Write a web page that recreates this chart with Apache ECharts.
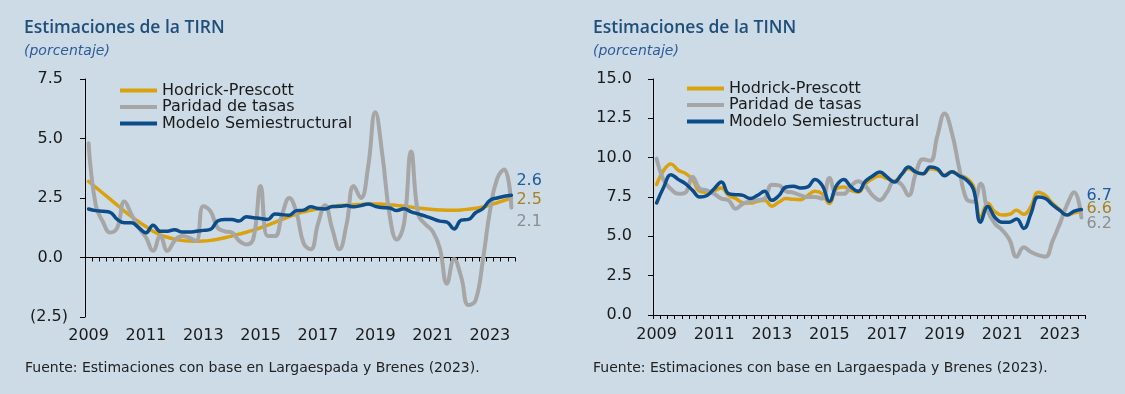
<!DOCTYPE html>
<html><head><meta charset="utf-8">
<script src="https://cdn.jsdelivr.net/npm/echarts@6/dist/echarts.min.js"></script>
<style>html,body{margin:0;padding:0;background:#CDDBE7;}#c{width:1125px;height:394px;}</style>
</head><body><div id="c"></div>
<script>
const years = ['2009','2010','2011','2012','2013','2014','2015','2016','2017','2018','2019','2020','2021','2022','2023'];
const quarterSuffix = ['T1','T2','T3','T4'];
const quarters = [];
years.forEach(y => quarterSuffix.forEach(q => quarters.push(y + q)));

const seriesNames = ['Hodrick-Prescott', 'Paridad de tasas', 'Modelo Semiestructural'];

// TIRN (left chart)
const tirnHP = [3.2,2.95,2.7,2.45,2.2,1.95,1.72,1.5,1.3,1.1,0.95,0.85,0.77,0.72,0.69,0.68,0.69,0.72,0.77,0.83,0.9,0.98,1.06,1.15,1.25,1.36,1.48,1.6,1.72,1.82,1.92,1.98,2.05,2.1,2.14,2.18,2.2,2.22,2.23,2.24,2.25,2.24,2.22,2.19,2.16,2.12,2.08,2.05,2.02,2.0,1.99,1.99,2.0,2.03,2.07,2.12,2.2,2.3,2.4,2.5];
const tirnPar = [4.8,2.2,1.5,1.05,1.25,2.35,1.8,1.25,0.85,0.28,0.9,0.28,0.7,0.9,0.83,0.7,2.15,1.95,1.25,1.1,1.05,0.7,0.55,0.8,3.0,0.9,0.9,1.8,2.5,1.9,0.6,0.35,1.4,2.2,1.2,0.35,1.4,3.0,2.5,3.8,6.1,4.3,1.8,0.76,1.4,4.45,1.8,1.4,1.1,0.4,-1.1,-0.07,-0.83,-2.0,-1.8,-0.15,1.95,3.3,3.7,2.1];
const tirnMS = [2.04,1.97,1.94,1.9,1.6,1.46,1.46,1.25,1.04,1.36,1.1,1.1,1.17,1.07,1.07,1.1,1.14,1.18,1.53,1.6,1.6,1.53,1.71,1.67,1.64,1.6,1.83,1.8,1.78,1.97,1.99,2.13,2.06,2.04,2.14,2.15,2.18,2.13,2.18,2.25,2.15,2.1,2.08,1.97,2.05,1.92,1.83,1.74,1.63,1.53,1.49,1.2,1.57,1.6,1.88,2.05,2.4,2.5,2.57,2.62];

// TINN (right chart)
const tinnHP = [8.3,9.2,9.6,9.2,9.0,8.6,7.86,7.8,7.9,8.07,7.6,7.4,7.14,7.12,7.22,7.3,6.92,7.18,7.4,7.35,7.33,7.6,7.86,7.7,7.08,8.03,8.13,7.92,7.8,8.35,8.67,8.83,8.67,8.5,8.92,9.3,9.05,8.98,9.3,9.2,8.9,9.1,8.9,8.7,8.2,6.2,7.1,6.55,6.35,6.4,6.65,6.4,6.9,7.8,7.6,7.1,6.7,6.35,6.5,6.6];
const tinnPar = [9.94,8.56,8.0,7.7,7.78,8.77,8.03,7.92,7.7,7.4,7.29,6.76,7.08,7.22,7.3,7.4,8.28,8.24,7.86,7.78,7.6,7.5,7.5,7.4,8.7,7.7,7.7,8.2,8.5,8.2,7.6,7.3,7.8,8.5,8.3,7.6,9.0,9.9,9.8,11.4,12.8,11.6,9.4,7.4,7.2,8.35,6.6,5.8,5.4,4.8,3.7,4.3,4.0,3.8,3.7,4.7,5.8,7.0,7.8,6.2];
const tinnMS = [7.12,8.14,8.92,8.62,8.35,7.92,7.5,7.6,8.03,8.45,7.71,7.65,7.6,7.4,7.6,7.86,7.29,7.6,8.14,8.18,8.07,8.14,8.62,8.24,7.22,8.24,8.62,8.14,7.86,8.5,8.83,9.09,8.77,8.45,8.92,9.4,9.09,8.98,9.4,9.3,8.85,9.1,8.85,8.6,8.0,5.9,6.9,6.2,5.9,5.9,6.1,5.5,6.45,7.5,7.4,7.0,6.65,6.35,6.6,6.7];

const C_GOLD = '#DAA20E', C_GRAY = '#A6A6A6', C_BLUE = '#0C4C89';
const L_GOLD = '#A9821E', L_GRAY = '#8E8E8E', L_BLUE = '#1D5B9C';
const TXT = '#1a1a1a';
const FONT = 'DejaVu Sans';
const FS = 16;

function yFmt(v){ return v < 0 ? '(' + Math.abs(v).toFixed(1) + ')' : v.toFixed(1) + ' '; }
function yearInterval(idx){ return idx % 8 === 0; }
function yearFmt(v){ return v.slice(0,4); }

function mkSeries(name, data, color, lcolor, width, xi, yi, off){
  return {
    name, type:'line', data, xAxisIndex:xi, yAxisIndex:yi,
    smooth:0.45, showSymbol:false, symbol:'none',
    lineStyle:{color, width, cap:'round', join:'round'}, itemStyle:{color},
    endLabel:{show:true, distance:5, offset:off, color:lcolor, fontSize:FS, fontFamily:FONT,
      formatter:p => Number(p.value).toFixed(1)},
    z: 2
  };
}

const legendBase = {
  orient:'vertical', icon:'rect', itemWidth:37, itemHeight:4, itemGap:0.5, padding:0, selectedMode:false,
  textStyle:{color:TXT, fontSize:FS, fontFamily:FONT, lineHeight:16},
  data: seriesNames
};

const titleFont = 'Open Sans';
const titleStyle = {fontFamily:titleFont, fontWeight:600, fontSize:17.5, color:'#1F4E79'};
const subStyle = {fontFamily:'DejaVu Sans', fontStyle:'italic', fontWeight:'normal', fontSize:14, color:'#2B5C98'};
const footStyle = {fontFamily:'DejaVu Sans', fontWeight:'normal', fontSize:14, color:'#222'};
const option = {
  animation:false,
  backgroundColor:'#CDDBE7',
  title:[
    {text:'Estimaciones de la TIRN', left:24, top:19, padding:0, textStyle:titleStyle},
    {text:'(porcentaje)', left:24, top:44, padding:0, textStyle:subStyle},
    {text:'Estimaciones de la TINN', left:593, top:19, padding:0, textStyle:titleStyle},
    {text:'(porcentaje)', left:593, top:44, padding:0, textStyle:subStyle},
    {text:'Fuente: Estimaciones con base en Largaespada y Brenes (2023).', left:25, top:361, padding:0, textStyle:footStyle},
    {text:'Fuente: Estimaciones con base en Largaespada y Brenes (2023).', left:593, top:361, padding:0, textStyle:footStyle}
  ],
  legend:[
    Object.assign({}, legendBase, {left:120, top:82.5}),
    Object.assign({}, legendBase, {left:687, top:80.5})
  ],
  grid:[
    {left:85, top:79, width:430, height:238},
    {left:653, top:79, width:432, height:236}
  ],
  xAxis:[
    {gridIndex:0, type:'category', data:quarters, boundaryGap:true,
      axisLine:{show:true, onZero:true, lineStyle:{color:'#000', width:1}},
      axisTick:{show:true, interval:0, length:4, lineStyle:{color:'#000'}},
      axisLabel:{show:false}, splitLine:{show:false}},
    {gridIndex:0, type:'category', data:quarters, boundaryGap:true, position:'bottom',
      axisLine:{show:false, onZero:false}, axisTick:{show:false},
      axisLabel:{show:true, interval:yearInterval, formatter:yearFmt, margin:11, color:TXT, fontSize:FS, fontFamily:FONT},
      splitLine:{show:false}},
    {gridIndex:1, type:'category', data:quarters, boundaryGap:true,
      axisLine:{show:true, lineStyle:{color:'#000', width:1}},
      axisTick:{show:true, interval:0, length:4, lineStyle:{color:'#000'}},
      axisLabel:{show:true, interval:yearInterval, formatter:yearFmt, margin:12, color:TXT, fontSize:FS, fontFamily:FONT},
      splitLine:{show:false}}
  ],
  yAxis:[
    {gridIndex:0, type:'value', min:-2.5, max:7.5, interval:2.5,
      axisLine:{show:true, lineStyle:{color:'#000', width:1}},
      axisTick:{show:true, length:5, lineStyle:{color:'#000'}},
      axisLabel:{formatter:yFmt, margin:17, color:TXT, fontSize:FS, fontFamily:FONT},
      splitLine:{show:false}},
    {gridIndex:1, type:'value', min:0, max:15, interval:2.5,
      axisLine:{show:true, lineStyle:{color:'#000', width:1}},
      axisTick:{show:true, length:5, lineStyle:{color:'#000'}},
      axisLabel:{formatter:yFmt, margin:16, color:TXT, fontSize:FS, fontFamily:FONT},
      splitLine:{show:false}}
  ],
  series:[
    mkSeries(seriesNames[0], tirnHP, C_GOLD, L_GOLD, 3.5, 0, 0, [0, 2]),
    mkSeries(seriesNames[1], tirnPar, C_GRAY, L_GRAY, 4, 0, 0, [0, 14]),
    mkSeries(seriesNames[2], tirnMS, C_BLUE, L_BLUE, 3.5, 0, 0, [0, -14]),
    mkSeries(seriesNames[0], tinnHP, C_GOLD, L_GOLD, 3.5, 2, 1, [0, -2]),
    mkSeries(seriesNames[1], tinnPar, C_GRAY, L_GRAY, 4, 2, 1, [0, 6]),
    mkSeries(seriesNames[2], tinnMS, C_BLUE, L_BLUE, 3.5, 2, 1, [0, -14])
  ]
};
const chart = echarts.init(document.getElementById('c'), null, {renderer:'canvas'});
chart.setOption(option);
</script>
</body></html>
